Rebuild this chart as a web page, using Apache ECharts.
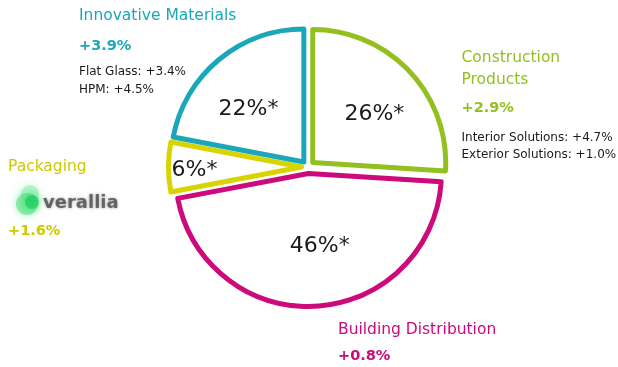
<!DOCTYPE html>
<html>
<head>
<meta charset="utf-8">
<script src="https://cdn.jsdelivr.net/npm/echarts@6/dist/echarts.min.js"></script>
<style>
  html, body { margin: 0; background: #fff; }
  #chart { width: 618px; height: 367px; }
</style>
</head>
<body>
<div id="chart"></div>
<script>
// data, clockwise from 12 o'clock
const segments = ['Construction Products', 'Building Distribution', 'Packaging', 'Innovative Materials'];
const titleLines = [['Construction', 'Products'], ['Building Distribution'], ['Packaging'], ['Innovative Materials']];
const shares = [26, 46, 6, 22];
const growth = ['+2.9%', '+0.8%', '+1.6%', '+3.9%'];
const subLines = [
  ['Interior Solutions: +4.7%', 'Exterior Solutions: +1.0%'],
  [],
  [],
  ['Flat Glass: +3.4%', 'HPM: +4.5%']
];

const colors = ['#93c01f', '#cc0a7b', '#d8d400', '#1aa7b8'];
const textColors = ['#93c01f', '#cc0a7b', '#cdc900', '#1aa7b8'];
const FONT = '"DejaVu Sans", sans-serif';

// where the annotation blocks sit (x, and vertical centres of each line)
const blocks = [
  { x: 461.5, title: [58.3, 80], growth: 108.5, subs: [137.8, 155.3] },
  { x: 338, title: [329.5], growth: 356, subs: [] },
  { x: 8, title: [167.3], growth: 231.5, subs: [] },
  { x: 79, title: [16.3], growth: 46, subs: [72, 89.7] }
];
// nudges for the percentage labels inside slices
const labelNudge = [[11, -1], [7, 3.5], [-37.5, 3.5], [-11, 1]];

const graphics = [];
segments.forEach((name, i) => {
  const b = blocks[i];
  titleLines[i].forEach((line, j) => {
    graphics.push({
      type: 'text', x: b.x, y: b.title[j], silent: true,
      style: { text: line, font: '15.5px ' + FONT, fill: textColors[i], verticalAlign: 'middle' }
    });
  });
  graphics.push({
    type: 'text', x: b.x, y: b.growth, silent: true,
    style: { text: growth[i], font: 'bold 14.5px ' + FONT, fill: textColors[i], verticalAlign: 'middle' }
  });
  subLines[i].forEach((line, j) => {
    graphics.push({
      type: 'text', x: b.x, y: b.subs[j], silent: true,
      style: { text: line, font: '12px ' + FONT, fill: '#1a1a1a', verticalAlign: 'middle' }
    });
  });
});

// verallia logo (rough, blurry)
graphics.push(
  { type: 'circle', shape: { cx: 30, cy: 194, r: 9 }, silent: true,
    style: { fill: 'rgba(150,240,180,0.6)', shadowBlur: 8, shadowColor: 'rgba(150,240,180,0.9)' } },
  { type: 'circle', shape: { cx: 27, cy: 204, r: 11 }, silent: true,
    style: { fill: 'rgba(70,225,120,0.55)', shadowBlur: 9, shadowColor: 'rgba(70,225,120,0.8)' } },
  { type: 'circle', shape: { cx: 32, cy: 202, r: 7 }, silent: true,
    style: { fill: 'rgba(30,205,95,0.7)', shadowBlur: 6, shadowColor: 'rgba(30,205,95,0.7)' } },
  { type: 'text', x: 43, y: 203.5, silent: true,
    style: { text: 'verallia', font: 'bold 18px ' + FONT, fill: 'rgba(70,70,70,0.75)',
      verticalAlign: 'middle', textShadowBlur: 3, textShadowColor: 'rgba(70,70,70,0.7)' } }
);

const chart = echarts.init(document.getElementById('chart'), null, { renderer: 'canvas' });

chart.setOption({
  animation: false,
  backgroundColor: '#fff',
  graphic: graphics,
  series: [{
    type: 'pie',
    center: [308, 167],
    radius: [0, 133],
    startAngle: 90,
    clockwise: true,
    silent: true,
    selectedMode: 'multiple',
    selectedOffset: 6.5,
    emphasis: { disabled: true },
    itemStyle: { color: '#fff', borderWidth: 5 },
    label: {
      show: true,
      position: 'inside',
      formatter: '{c}%*',
      fontFamily: FONT,
      fontSize: 22,
      color: '#1a1a1a'
    },
    labelLine: { show: false },
    labelLayout: (p) => {
      const n = labelNudge[p.dataIndex];
      return { dx: n[0], dy: n[1] };
    },
    data: segments.map((name, i) => ({
      name,
      value: shares[i],
      selected: true,
      itemStyle: { borderColor: colors[i] },
      select: { itemStyle: { color: '#fff', borderColor: colors[i], borderWidth: 5 } }
    }))
  }]
});
</script>
</body>
</html>
